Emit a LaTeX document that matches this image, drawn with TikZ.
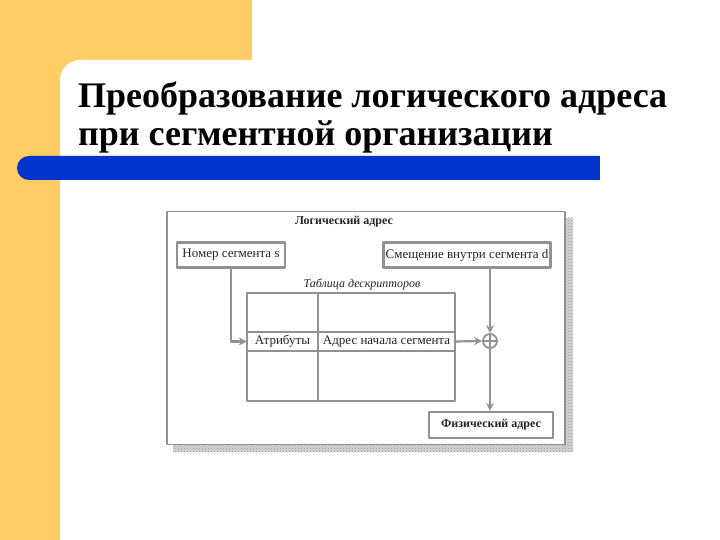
\documentclass[tikz,border=0pt]{standalone}
\usepackage{fontspec}
\setmainfont{Liberation Serif}
\usetikzlibrary{arrows.meta,patterns}
\definecolor{slideyellow}{RGB}{255,204,102}
\definecolor{slideblue}{RGB}{0,51,204}
\definecolor{linegray}{RGB}{145,145,145}
\definecolor{textgray}{RGB}{35,35,35}
\tikzset{
	box/.style={draw=linegray, line width=2.2pt, fill=white, inner sep=0pt, text=textgray},
	cell/.style={inner sep=0pt, text=textgray},
	conn/.style={draw=linegray, line width=2.2pt},
}
\begin{document}
\begin{tikzpicture}[x=1pt, y=-1pt, font=\fontsize{13}{15}\selectfont, line join=round, >={Stealth[length=8pt,width=8pt]}]
	\def\W{720}\def\H{540}
	\useasboundingbox (0,0) rectangle (\W,\H);
	% background of the slide
	\fill[slideyellow] (0,0) rectangle (252,\H);
	\fill[white, rounded corners=20pt] (60,60) rectangle (\W+30,\H+30);
	\fill[white] (252,0) rectangle (\W,60);
	\fill[slideblue, rounded corners=12pt] (17,156) rectangle (620,180);
	\fill[white] (600,150) rectangle (640,190);
	% title
	\node[anchor=base west, align=left, inner sep=0pt, font=\fontsize{36}{38}\selectfont\bfseries] (title) at (78,146)
		{Преобразование логического адреса\\при сегментной организации};
	% frame with shadow
	\fill[gray!35] (173,218) rectangle (573,452);
	\fill[pattern=crosshatch dots, pattern color=gray!80] (173,218) rectangle (573,452);
	\node[box, minimum width=398pt, minimum height=233pt, line width=1.8pt] (frame) at (366,328) {};
	\node[cell, font=\fontsize{12}{14}\selectfont\bfseries] (logaddr) at (344,222) {Логический адрес};
	\node[box, minimum width=108pt, minimum height=25pt] (segno) at (231,255) {Номер сегмента s};
	\node[box, minimum width=167pt, minimum height=25pt] (offset) at (467,255) {Смещение внутри сегмента d};
	\node[cell, font=\fontsize{12}{14}\selectfont\itshape] (tabname) at (362,284) {Таблица дескрипторов};
	% descriptor table
	\node[box, minimum width=208pt, minimum height=108pt] (table) at (351,347) {};
	\node[cell, minimum width=71pt, minimum height=19pt] (attr) at (282.5,341.5) {Атрибуты};
	\node[cell, minimum width=137pt, minimum height=19pt] (base) at (386.5,341.5) {Адрес начала сегмента};
	\draw[conn, line width=1.8pt] (attr.north west) -- (base.north east)
		(attr.south west) -- (base.south east)
		(table.north west -| attr.east) -- (table.south west -| attr.east);
	% adder and physical address
	\node[draw=linegray, line width=1.8pt, circle, minimum size=14pt, inner sep=0pt] (sum) at (490,341) {};
	\draw[conn, line width=1.6pt] (sum.north) -- (sum.south) (sum.west) -- (sum.east);
	\node[box, minimum width=124pt, minimum height=26pt, font=\fontsize{12}{14}\selectfont\bfseries] (phys) at (491,425) {Физический адрес};
	% connectors
	\draw[conn, ->] (segno.south) |- (attr.west);
	\draw[conn, ->] (offset.south -| sum.north) -- (sum.north);
	\draw[conn, ->] (base.east) -- (sum.west);
	\draw[conn, ->] (sum.south) -- (sum.south |- phys.north);
\end{tikzpicture}
\end{document}
